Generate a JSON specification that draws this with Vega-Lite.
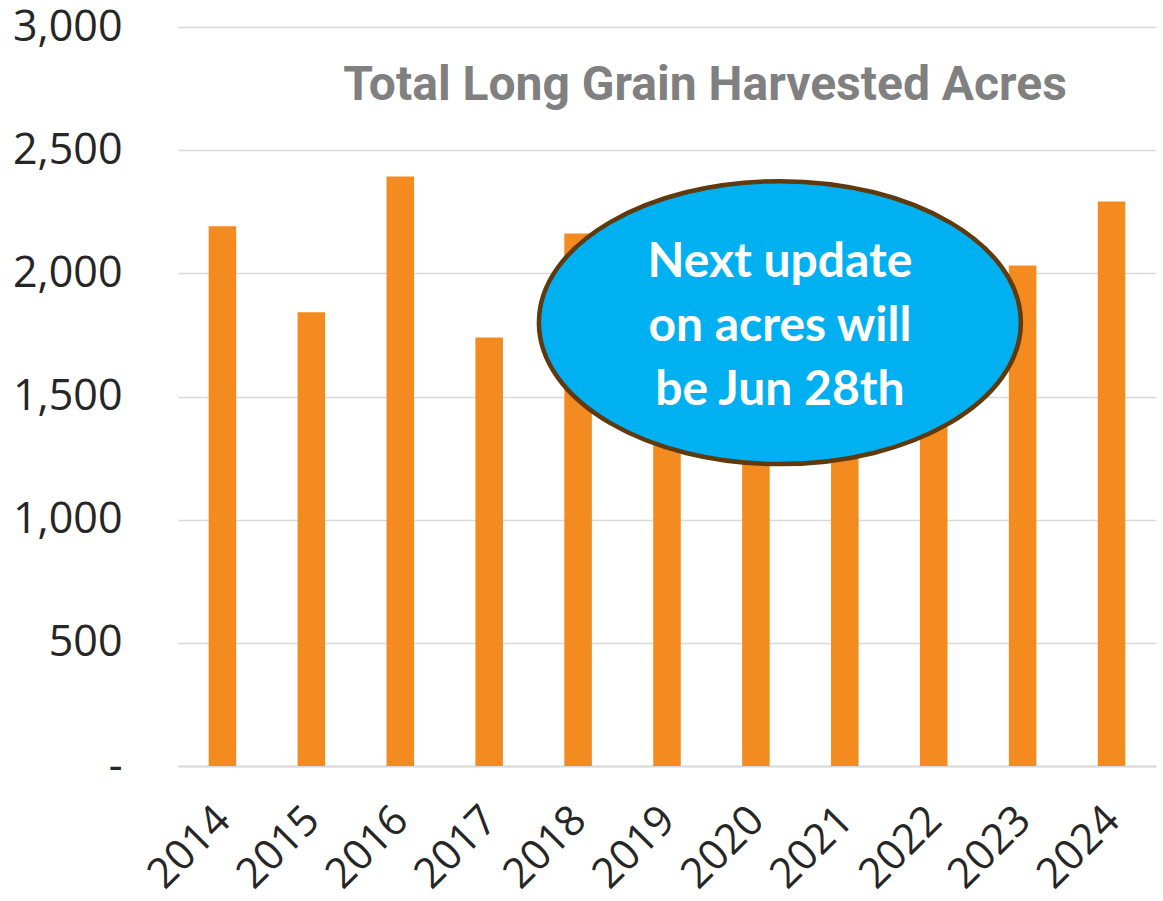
{
  "$schema": "https://vega.github.io/schema/vega-lite/v6.json",
  "width": 978,
  "height": 739,
  "autosize": {"type": "none"},
  "padding": {"left": 178, "top": 27, "right": 7, "bottom": 135},
  "background": "white",
  "config": {"view": {"stroke": null}},
  "title": {
    "text": "Total Long Grain Harvested Acres",
    "font": "Roboto",
    "fontSize": 48,
    "fontWeight": "bold",
    "color": "#808080",
    "anchor": "middle",
    "frame": "group",
    "dx": 38,
    "dy": 67,
    "offset": -75,
    "baseline": "alphabetic"
  },
  "datasets": {
    "acres": [
      {"year": "2014", "acres": 2191},
      {"year": "2015", "acres": 1842},
      {"year": "2016", "acres": 2393},
      {"year": "2017", "acres": 1740},
      {"year": "2018", "acres": 2162},
      {"year": "2019", "acres": 1714},
      {"year": "2020", "acres": 2247},
      {"year": "2021", "acres": 1955},
      {"year": "2022", "acres": 1470},
      {"year": "2023", "acres": 2032},
      {"year": "2024", "acres": 2292}
    ],
    "note": [
      {"year": "2020", "acres": 1800, "label": "Next update\non acres will\nbe Jun 28th"}
    ]
  },
  "layer": [
    {
      "data": {"name": "acres"},
      "mark": {"type": "bar", "color": "#F38B20"},
      "encoding": {
        "x": {
          "field": "year",
          "type": "nominal",
          "sort": null,
          "scale": {"paddingInner": 0.69, "paddingOuter": 0.345},
          "axis": {
            "title": null,
            "labelAngle": -45,
            "labelFont": "Open Sans",
            "labelFontSize": 42,
            "labelColor": "#262626",
            "ticks": false,
            "domain": true,
            "domainColor": "#d9d9d9",
            "domainWidth": 2,
            "labelPadding": 33,
            "labelOffset": -13,
            "grid": false
          }
        },
        "y": {
          "field": "acres",
          "type": "quantitative",
          "scale": {"domain": [0, 3000], "nice": false},
          "axis": {
            "title": null,
            "values": [0, 500, 1000, 1500, 2000, 2500, 3000],
            "labelExpr": "datum.value == 0 ? '-\u00a0\u00a0' : format(datum.value, ',')",
            "grid": true,
            "gridColor": "#d9d9d9",
            "gridWidth": 1.5,
            "domain": false,
            "ticks": false,
            "labelPadding": 56,
            "labelFont": "Open Sans",
            "labelFontSize": 43,
            "labelColor": "#262626"
          }
        }
      }
    },
    {
      "data": {"name": "note"},
      "mark": {
        "type": "point",
        "shape": "M -1 0 A 1 0.587 0 1 1 1 0 A 1 0.587 0 1 1 -1 0 Z",
        "size": 232324,
        "filled": true,
        "fill": "#00B0F0",
        "fillOpacity": 1,
        "stroke": "#60390E",
        "strokeWidth": 4.5,
        "opacity": 1,
        "xOffset": 24
      },
      "encoding": {
        "x": {"field": "year", "type": "nominal", "sort": null},
        "y": {"field": "acres", "type": "quantitative"}
      }
    },
    {
      "data": {"name": "note"},
      "mark": {
        "type": "text",
        "font": "Lato",
        "fontSize": 48,
        "fontWeight": "bold",
        "color": "white",
        "lineBreak": "\n",
        "lineHeight": 64,
        "align": "center",
        "baseline": "middle",
        "xOffset": 24,
        "dy": -60
      },
      "encoding": {
        "x": {"field": "year", "type": "nominal", "sort": null},
        "y": {"field": "acres", "type": "quantitative"},
        "text": {"field": "label"}
      }
    }
  ]
}
